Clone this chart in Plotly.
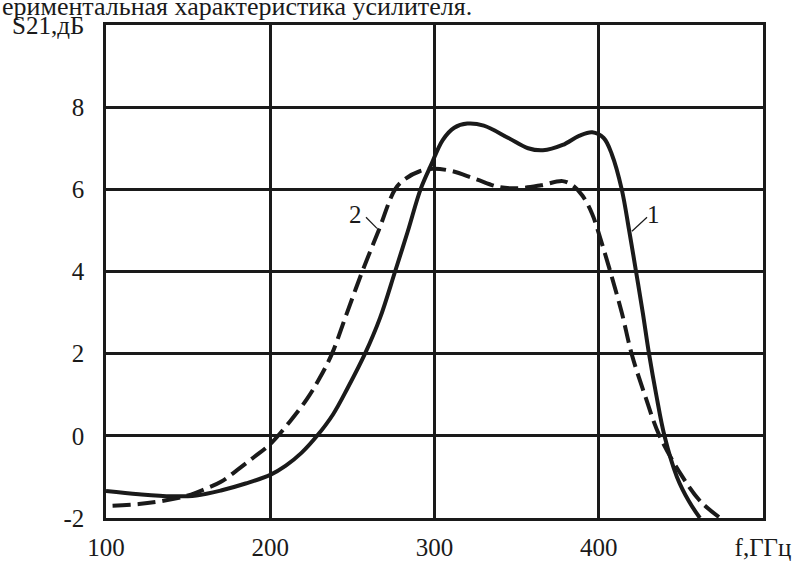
import plotly.graph_objects as go

# Curve 1 (solid)
f1 = [100, 120, 140, 155, 170, 185, 200, 209.5, 219, 228.5, 238.2, 247.2, 257.7, 266.85, 276, 283.75,
      291.5, 298, 305, 312, 320, 330, 345, 357, 366, 378, 388, 396, 403, 408, 414, 418.5, 422.7,
      426.8, 430.6, 435, 440, 447.6, 455, 461.6]
s1 = [-1.34, -1.42, -1.47, -1.45, -1.33, -1.16, -0.95, -0.725, -0.415, 0, 0.52, 1.17, 2, 2.87, 4, 4.98,
      6, 6.6, 7.2, 7.5, 7.6, 7.55, 7.25, 7.0, 6.95, 7.08, 7.3, 7.39, 7.25, 6.85, 6.0, 5.0, 4.0,
      3.0, 2.0, 1.0, 0, -1.0, -1.6, -2.0]

# Curve 2 (dashed)
f2 = [104, 120, 135, 150, 160, 170, 180, 190, 200, 212, 222.4, 230, 237.6, 246.5, 256, 266, 276,
      282, 291, 299, 310, 325, 340, 352, 365, 378, 384, 390, 396, 401, 407, 414, 420,
      428, 437, 451, 462, 474]
s2 = [-1.7, -1.66, -1.58, -1.45, -1.3, -1.12, -0.83, -0.52, -0.2, 0.35, 0.9, 1.4, 2.0, 2.97, 4, 5, 6,
      6.25, 6.44, 6.5, 6.45, 6.25, 6.05, 6.03, 6.1, 6.2, 6.1, 5.85, 5.4, 4.8, 4.0, 3.0, 2.0,
      1.0, 0, -1.0, -1.6, -2.0]

x_tickvals = [100, 200, 300, 400, 500]
x_ticktext = ["100", "200", "300", "400", "f,ГГц"]
y_tickvals = [-2, 0, 2, 4, 6, 8, 10]
y_ticktext = ["-2", "0", "2", "4", "6", "8", "S21,дБ"]

title_text = "ериментальная характеристика усилителя."
curve_labels = ["1", "2"]

FONT = "Liberation Serif, Times New Roman, serif"

fig = go.Figure()
fig.add_trace(go.Scatter(x=f1, y=s1, mode="lines", line=dict(color="#1a1a1a", width=4, shape="spline"),
                         showlegend=False, cliponaxis=True))
fig.add_trace(go.Scatter(x=f2, y=s2, mode="lines",
                         line=dict(color="#1a1a1a", width=4, shape="spline", dash="18px,7px"),
                         showlegend=False, cliponaxis=True))

# leader lines for curve labels
fig.add_shape(type="line", x0=429.4, y0=5.32, x1=420.2, y1=4.98, line=dict(color="#1a1a1a", width=1.2))
fig.add_shape(type="line", x0=258.3, y0=5.32, x1=265.0, y1=5.05, line=dict(color="#1a1a1a", width=1.2))

fig.add_annotation(x=433.5, y=5.38, text=curve_labels[0], showarrow=False,
                   font=dict(family=FONT, size=25, color="#1a1a1a"))
fig.add_annotation(x=252.2, y=5.38, text=curve_labels[1], showarrow=False,
                   font=dict(family=FONT, size=25, color="#1a1a1a"))

fig.add_annotation(xref="paper", yref="paper", x=-106/657, y=1 + 19/493, xanchor="left", yanchor="middle",
                   text=title_text, showarrow=False,
                   font=dict(family=FONT, size=26, color="#1a1a1a"))

fig.update_xaxes(range=[100, 500], tickvals=x_tickvals, ticktext=x_ticktext,
                 showgrid=True, gridcolor="#1a1a1a", gridwidth=2.5,
                 showline=True, linecolor="#1a1a1a", linewidth=2.5, mirror=True,
                 zeroline=False, ticks="", ticklabelstandoff=5,
                 tickfont=dict(family=FONT, size=25, color="#1a1a1a"))
fig.update_yaxes(range=[-2, 10], tickvals=y_tickvals, ticktext=y_ticktext,
                 showgrid=True, gridcolor="#1a1a1a", gridwidth=2.5,
                 showline=True, linecolor="#1a1a1a", linewidth=2.5, mirror=True,
                 zeroline=False, ticks="", ticklabelstandoff=14,
                 tickfont=dict(family=FONT, size=25, color="#1a1a1a"))

fig.update_layout(width=796, height=563, margin=dict(l=106, r=33, t=25, b=45, autoexpand=False),
                  plot_bgcolor="white", paper_bgcolor="white")

fig.write_html("out.html", config={"displayModeBar": False},
               post_script="document.body.style.margin='0';")
